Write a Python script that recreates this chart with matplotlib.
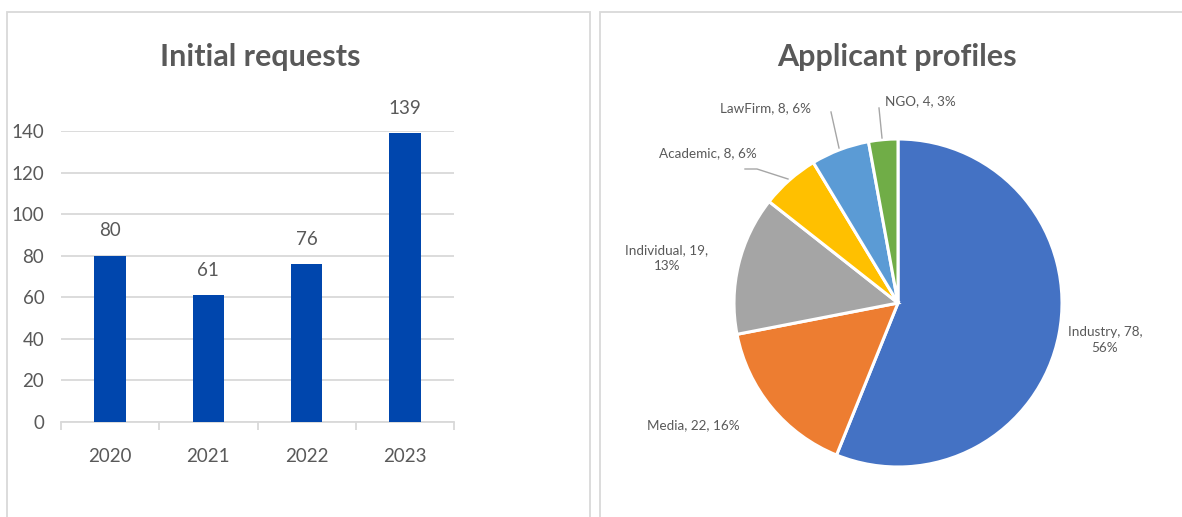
import matplotlib
matplotlib.use("Agg")
import matplotlib.pyplot as plt
from matplotlib.patches import Rectangle
from matplotlib.lines import Line2D

years = ["2020", "2021", "2022", "2023"]
requests = [80, 61, 76, 139]

profiles = ["Industry", "Media", "Individual", "Academic", "LawFirm", "NGO"]
counts = [78, 22, 19, 8, 8, 4]
percents = ["56%", "16%", "13%", "6%", "6%", "3%"]
colors = ["#4472C4", "#ED7D31", "#A5A5A5", "#FFC000", "#5B9BD5", "#70AD47"]

plt.rcParams['font.family'] = ['Lato', 'DejaVu Sans']
TXT = "#595959"
W, H = 1182, 517
fig = plt.figure(figsize=(W / 100, H / 100), dpi=100)

def fx(px):
    return px / W

def fy(py):
    return 1 - py / H

# panel borders
for (x0, x1) in [(7, 590), (600, 1190)]:
    fig.add_artist(Rectangle((fx(x0), fy(530)), fx(x1) - fx(x0), fy(12) - fy(530),
                             transform=fig.transFigure, fill=False,
                             edgecolor="#D9D9D9", linewidth=1.3))

# ---- bar chart ----
axb = fig.add_axes([fx(61), fy(422), fx(454) - fx(61), fy(131) - fy(422)])
x = range(len(years))
axb.bar(x, requests, width=0.32, color="#0046AD", zorder=3)
axb.set_xlim(-0.5, 3.5)
axb.set_ylim(0, 140)
axb.set_yticks(range(0, 141, 20))
axb.yaxis.grid(True, color="#D9D9D9", linewidth=1.3, zorder=0)
axb.set_axisbelow(True)
for s in ["top", "right", "left"]:
    axb.spines[s].set_visible(False)
axb.spines["bottom"].set_color("#D9D9D9")
axb.spines["bottom"].set_linewidth(1.3)
axb.set_xticks(list(x))
axb.set_xticklabels(years)
axb.set_xticks([-0.5, 0.5, 1.5, 2.5, 3.5], minor=True)
axb.tick_params(axis="x", which="major", length=0, pad=19, labelsize=13.5, labelcolor=TXT)
axb.tick_params(axis="x", which="minor", length=6, width=1.3, color="#D9D9D9")
axb.tick_params(axis="y", length=0, pad=12, labelsize=13.5, labelcolor=TXT)
for yl in axb.get_yticklabels():
    yl.set_horizontalalignment("right")
for xi, v in zip(x, requests):
    axb.annotate(str(v), (xi, v), xytext=(0, 18), textcoords="offset points",
                 ha="center", va="center", fontsize=13.5, color=TXT, annotation_clip=False)
fig.text(fx(260), fy(57), "Initial requests", ha="center", va="center",
         fontsize=22, fontweight="bold", color=TXT)

# ---- pie chart ----
cx, cy, r = 898, 303, 164
axp = fig.add_axes([fx(cx - r), fy(cy + r), fx(2 * r), fy(cy - r) - fy(cy + r)])
axp.pie(counts, colors=colors, startangle=90, counterclock=False, radius=1,
        wedgeprops=dict(edgecolor="white", linewidth=2.2))
axp.set_xlim(-1, 1)
axp.set_ylim(-1, 1)
axp.set_aspect("equal")
axp.axis("off")

def P(px, py):
    return ((px - cx) / r, (cy - py) / r)

label_pos = {
    "Industry": (1105, 340),
    "Media": (693, 425),
    "Individual": (667, 258),
    "Academic": (708, 153),
    "LawFirm": (765, 108),
    "NGO": (920, 101),
}
two_line = {"Industry", "Individual"}
for name, c, p in zip(profiles, counts, percents):
    if name in two_line:
        s = f"{name}, {c},\n{p}"
    else:
        s = f"{name}, {c}, {p}"
    tx, ty = P(*label_pos[name])
    axp.text(tx, ty, s, ha="center", va="center", fontsize=9.7, color=TXT,
             linespacing=1.35, clip_on=False)

leaders = [
    [(745, 169), (757, 169), (788, 179)],
    [(831, 112), (839, 148)],
    [(879, 108), (882, 138)],
]
for pts in leaders:
    xs = [P(*p)[0] for p in pts]
    ys = [P(*p)[1] for p in pts]
    axp.add_line(Line2D(xs, ys, color="#A6A6A6", linewidth=1.0, clip_on=False))

fig.text(fx(897), fy(57), "Applicant profiles", ha="center", va="center",
         fontsize=22, fontweight="bold", color=TXT)

fig.savefig("out.png", dpi=100)
